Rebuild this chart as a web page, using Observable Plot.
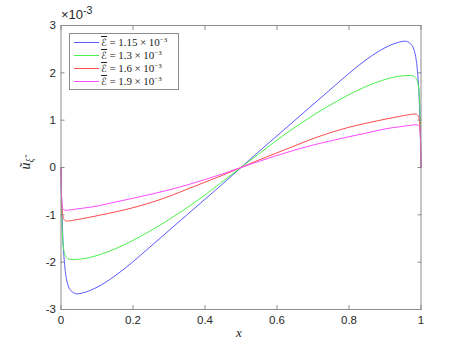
<!DOCTYPE html>
<html><head><meta charset="utf-8">
<script src="https://cdn.jsdelivr.net/npm/d3@7"></script>
<script src="https://cdn.jsdelivr.net/npm/@observablehq/plot@0.6"></script>
<style>
body{margin:0;background:#fff;}
#wrap{position:relative;width:464px;height:348px;font-family:"Liberation Sans",Arial,sans-serif;}
.ov{position:absolute;white-space:nowrap;color:#262626;}
#legend{position:absolute;left:69px;top:33px;width:110px;height:57px;border:1px solid #8c8c8c;background:#fff;box-sizing:border-box;}
.row{position:absolute;left:4px;height:13px;font-family:"Liberation Serif","DejaVu Serif",serif;font-size:11px;line-height:13px;color:#222;}
.row .sw{display:inline-block;width:25px;height:0;border-top:1px solid;vertical-align:middle;margin-right:2px;position:relative;top:-1px;}
.row sup{font-size:7px;vertical-align:4px;line-height:0;}
.row .op{margin:0 2.5px;}
.cal{text-decoration:overline;font-family:"DejaVu Sans",sans-serif;font-style:normal;font-size:10px;}
</style></head>
<body><div id="wrap"></div>
<script>
// x grid (shared by all series)
const xs = [0, 0.002, 0.005, 0.01, 0.015, 0.02, 0.03, 0.045, 0.06, 0.08, 0.1, 0.15, 0.2, 0.25, 0.3, 0.35, 0.4, 0.45, 0.5,
            0.55, 0.6, 0.65, 0.7, 0.75, 0.8, 0.85, 0.9, 0.92, 0.94, 0.955, 0.97, 0.98, 0.985, 0.99, 0.995, 0.998, 1];
// u values (x 10^-3)
const uE115 = [0, -0.75, -1.45, -2.05, -2.35, -2.5, -2.62, -2.67, -2.65, -2.6, -2.53, -2.29, -1.99, -1.66, -1.33, -1.0, -0.67, -0.34, 0,
               0.34, 0.67, 1.0, 1.33, 1.66, 1.99, 2.29, 2.53, 2.6, 2.65, 2.67, 2.62, 2.5, 2.35, 2.05, 1.45, 0.75, 0];
const uE13  = [0, -1.0, -1.55, -1.82, -1.9, -1.93, -1.945, -1.94, -1.93, -1.9, -1.86, -1.72, -1.54, -1.33, -1.1, -0.85, -0.58, -0.29, 0,
               0.29, 0.58, 0.85, 1.1, 1.33, 1.54, 1.72, 1.86, 1.9, 1.93, 1.94, 1.945, 1.93, 1.9, 1.82, 1.55, 1.0, 0];
const uE16  = [0, -0.75, -1.02, -1.11, -1.13, -1.13, -1.12, -1.1, -1.08, -1.05, -1.02, -0.94, -0.85, -0.74, -0.61, -0.46, -0.31, -0.16, 0,
               0.16, 0.31, 0.46, 0.61, 0.74, 0.85, 0.94, 1.02, 1.05, 1.08, 1.1, 1.12, 1.13, 1.13, 1.11, 1.02, 0.75, 0];
const uE19  = [0, -0.7, -0.87, -0.9, -0.905, -0.9, -0.89, -0.875, -0.86, -0.84, -0.815, -0.73, -0.65, -0.565, -0.475, -0.37, -0.255, -0.13, 0,
               0.13, 0.255, 0.37, 0.475, 0.565, 0.65, 0.73, 0.815, 0.84, 0.86, 0.875, 0.89, 0.9, 0.905, 0.9, 0.87, 0.7, 0];
const eLabels = ["1.15", "1.3", "1.6", "1.9"];
const colors = ["#5a5aff", "#4cf04c", "#ff4c4c", "#ff4cff"];
const xTicks = [0, 0.2, 0.4, 0.6, 0.8, 1];
const yTicks = [-3, -2, -1, 0, 1, 2, 3];

const seriesU = [uE115, uE13, uE16, uE19];
const data = seriesU.flatMap((u, k) => xs.map((x, i) => ({x, u: u[i], k: eLabels[k]})));

const fmt = d => String(d);
const chart = Plot.plot({
  width: 464, height: 348,
  marginLeft: 60.5, marginRight: 43.5, marginTop: 25, marginBottom: 39,
  style: {fontFamily: "Liberation Sans, Arial, sans-serif", fontSize: "11.5px", color: "#262626", background: "#fff"},
  x: {domain: [0, 1]},
  y: {domain: [-3, 3]},
  color: {domain: eLabels, range: colors},
  marks: [
    Plot.line(data, {x: "x", y: "u", z: "k", stroke: "k", strokeWidth: 1, curve: "monotone-x"}),
    Plot.frame({stroke: "#8c8c8c"}),
    Plot.axisX(xTicks, {anchor: "bottom", tickSize: -4, tickFormat: () => "", stroke: "#8c8c8c", label: null}),
    Plot.axisX(xTicks, {anchor: "top", tickSize: -4, tickFormat: () => "", stroke: "#8c8c8c", label: null}),
    Plot.axisY(yTicks, {anchor: "left", tickSize: -4, tickFormat: () => "", stroke: "#8c8c8c", label: null}),
    Plot.axisY(yTicks, {anchor: "right", tickSize: -4, tickFormat: () => "", stroke: "#8c8c8c", label: null}),
    Plot.axisX(xTicks, {anchor: "bottom", tickSize: 0, tickPadding: 6, tickFormat: fmt, label: null}),
    Plot.axisY(yTicks, {anchor: "left", tickSize: 0, tickPadding: 5, tickFormat: fmt, label: null})
  ]
});
const wrap = document.getElementById("wrap");
wrap.appendChild(chart);

function ov(html, css) {
  const d = document.createElement("div");
  d.className = "ov"; d.innerHTML = html; d.style.cssText += css;
  wrap.appendChild(d); return d;
}
// exponent label
ov('×10<sup style="font-size:10.5px;vertical-align:5px;line-height:0">-3</sup>', "left:61px;top:7px;font-size:13px;");
// x label
ov('<i>x</i>', 'left:236px;top:325px;font-family:"Liberation Serif",serif;font-size:13px;');
// y label (rotated)
ov('<i>ũ</i><sub style="font-size:9.5px"><i>ξ̃</i></sub>', 'left:21px;top:155px;font-family:"Liberation Serif","DejaVu Serif",serif;font-size:14px;transform:rotate(-90deg);transform-origin:center;');
// legend
const lg = document.createElement("div"); lg.id = "legend"; wrap.appendChild(lg);
eLabels.forEach((l, i) => {
  const r = document.createElement("div"); r.className = "row";
  r.style.top = (2 + i * 13) + "px";
  r.innerHTML = `<span class="sw" style="border-color:${colors[i]}"></span><span class="cal">ℰ</span><span class="op">=</span>${l}<span class="op">×</span>10<sup>−3</sup>`;
  lg.appendChild(r);
});
</script></body></html>
